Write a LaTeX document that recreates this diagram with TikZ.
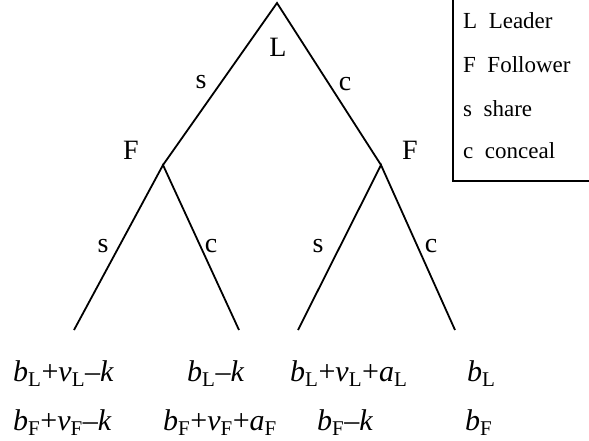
\documentclass[tikz,border=0pt]{standalone}
\usepackage{fontspec}
\setmainfont{Liberation Serif}
\usetikzlibrary{positioning}
\newcommand{\sub}[2]{\textit{#1}\textsubscript{#2}}

\begin{document}
\begin{tikzpicture}[x=1pt,y=-1pt,
 branch/.style={draw=black,line width=1.8pt},
 lab/.style={font=\fontsize{28}{32}\selectfont,inner sep=0pt},
 pay/.style={font=\fontsize{30}{34}\selectfont,anchor=base west,inner sep=0pt},
 key/.style={font=\fontsize{23}{26}\selectfont,anchor=base west,inner sep=0pt}]
 \useasboundingbox (0,0) rectangle (589,441);
 % tree
 \coordinate (root) at (277,3);
 \coordinate (fl) at (163,165); \coordinate (fr) at (381,165);
 \coordinate (ll) at (74,330); \coordinate (lr) at (239,330);
 \coordinate (rl) at (298,330); \coordinate (rr) at (455,330);
 \draw[branch] (fl)--(root)--(fr);
 \draw[branch] (ll)--(fl)--(lr); \draw[branch] (rl)--(fr)--(rr);
 \node[lab] (lead) at (278,47) {L};
 \node[lab] (fleft) at (131,150) {F};
 \node[lab] (fright) at (410,150) {F};
 \node[lab] (s0) at (201,82) {s}; \node[lab] (c0) at (345,84) {c};
 \node[lab] (s1) at (103,246) {s}; \node[lab] (c1) at (211,246) {c};
 \node[lab] (s2) at (318,246) {s}; \node[lab] (c2) at (431,246) {c};
 % payoffs
 \node[pay] (p1l) at (13,381) {\sub{b}{L}+\sub{v}{L}–\textit{k}};
 \node[pay] (p2l) at (187,381) {\sub{b}{L}–\textit{k}};
 \node[pay] (p3l) at (290,381) {\sub{b}{L}+\sub{v}{L}+\sub{a}{L}};
 \node[pay] (p4l) at (467,381) {\sub{b}{L}};
 \node[pay] (p1f) at (13,430) {\sub{b}{F}+\sub{v}{F}–\textit{k}};
 \node[pay] (p2f) at (163,430) {\sub{b}{F}+\sub{v}{F}+\sub{a}{F}};
 \node[pay] (p3f) at (317,430) {\sub{b}{F}–\textit{k}};
 \node[pay] (p4f) at (465,430) {\sub{b}{F}};
 % legend
 \draw[line width=1.5pt] (453,-5) rectangle (600,181);
 \node[key] (kl) at (463,29) {L~~Leader};
 \node[key] (kf) at (463,73) {F~~Follower};
 \node[key] (ks) at (463,117) {s~~share};
 \node[key] (kc) at (463,159) {c~~conceal};
\end{tikzpicture}
\end{document}
